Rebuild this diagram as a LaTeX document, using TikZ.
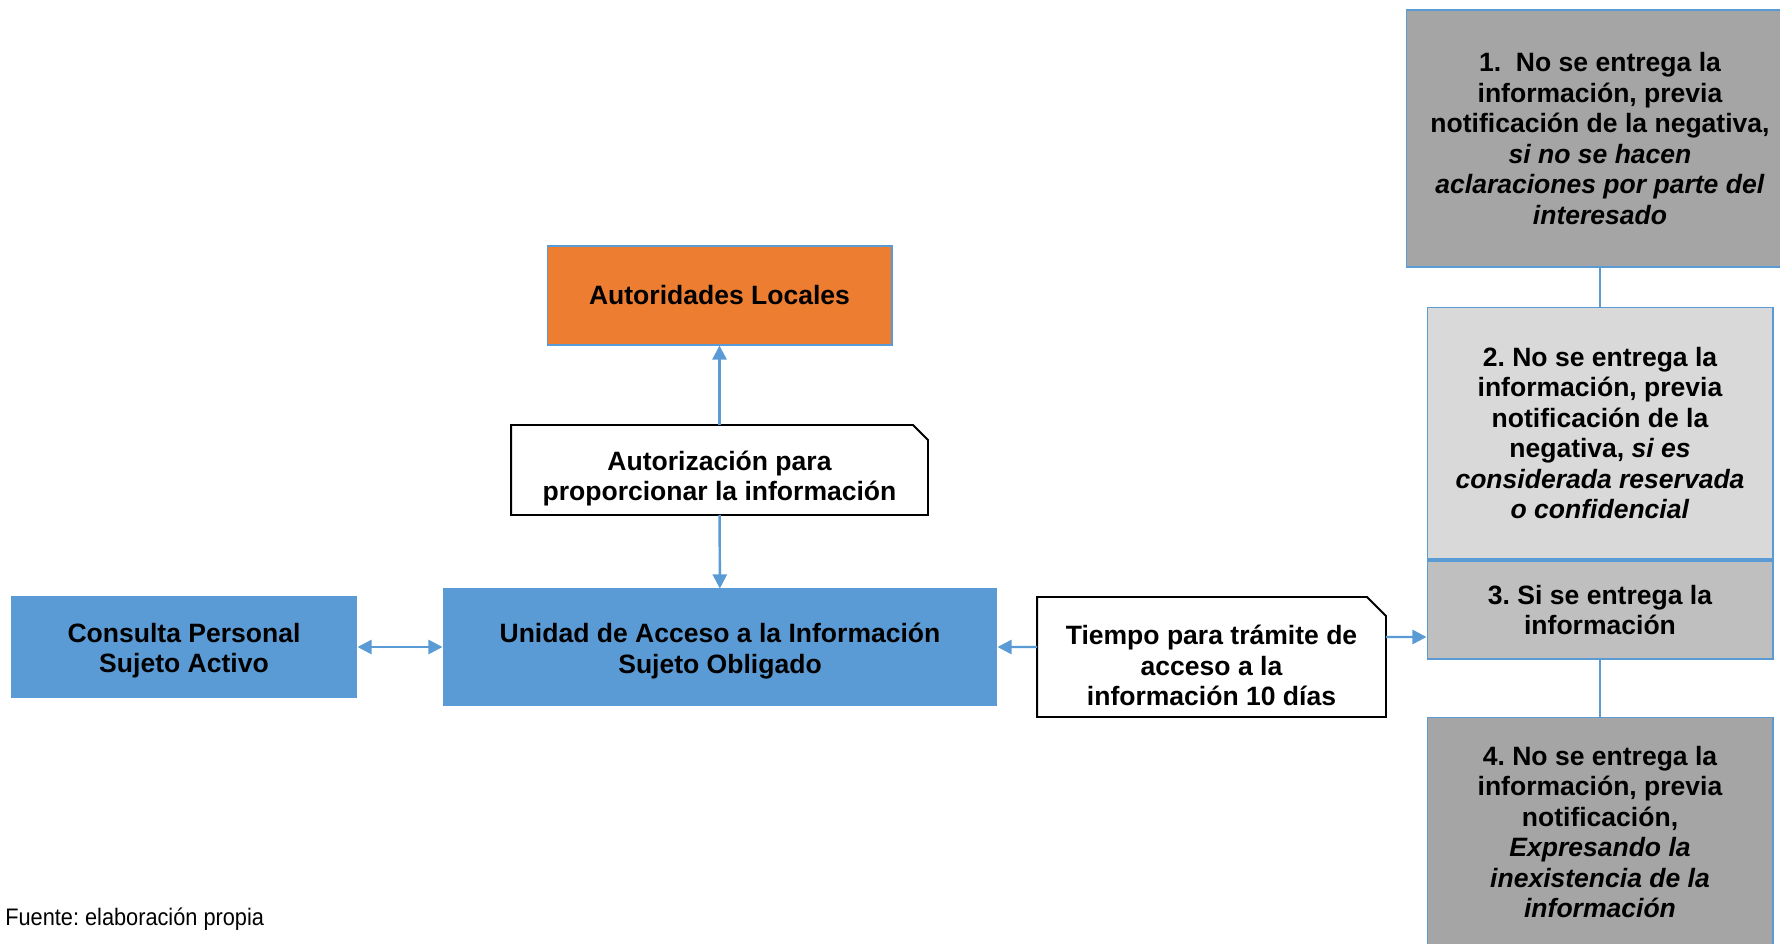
\documentclass[tikz,border=0pt]{standalone}
\usepackage{fontspec}
\setmainfont{Liberation Sans}
\newfontfamily\narrowfont[FakeStretch=0.91]{Liberation Sans}
\usepackage{tikz}
\usetikzlibrary{arrows.meta,positioning,calc}
\usepackage{xcolor}
\definecolor{ofblue}{RGB}{91,155,213}
\definecolor{oforange}{RGB}{237,125,49}
\definecolor{ofgray}{RGB}{165,165,165}
\definecolor{ofgray2}{RGB}{191,191,191}
\definecolor{oflightgray}{RGB}{217,217,217}
\tikzstyle{arrow} = [line width=1.4pt,-{Triangle[length=8pt,width=8pt]},color=ofblue]
\tikzstyle{link} = [line width=1.2pt,color=ofblue]
\tikzstyle{box} = [rectangle, text centered, align=center, draw=ofblue, line width=0.6pt, inner sep=2pt, font=\bfseries\fontsize{15.1}{17.4}\selectfont]
\tikzstyle{callout} = [rectangle, align=center, inner sep=2pt, outer sep=0pt, font=\bfseries\fontsize{15.1}{17.4}\selectfont]
\tikzstyle{calloutedge} = [draw=black, line width=1.1pt, line join=miter]
\newcommand{\toplift}{\rule{0pt}{21pt}}
% outline with the cut top right corner
\newcommand{\snipbox}[2]{\draw[calloutedge] (#1.south west) -- (#1.north west) -- ([xshift=-#2]#1.north east) -- ([yshift=-#2]#1.north east) -- (#1.south east) -- cycle;}

\begin{document}
\frenchspacing
\begin{tikzpicture}[x=0.02cm, y=-0.02cm]
    \useasboundingbox (0,0) rectangle (1780,943);
    % Nodes
    \node[box, fill=ofblue, minimum width=6.92cm, minimum height=2cm] (consulta) at (184,647) {\rule{0pt}{15pt}Consulta Personal\\Sujeto Activo};
    \node[box, fill=ofblue, minimum width=11.08cm, minimum height=2.32cm] (unidad) at (720,647) {\rule{0pt}{16pt}Unidad de Acceso a la Información\\Sujeto Obligado};
    \node[box, fill=oforange, minimum width=6.9cm, minimum height=1.98cm] (autoridades) at (719.5,295.5) {Autoridades Locales};
    \node[callout, minimum width=8.34cm, minimum height=1.8cm] (autorizacion) at (719.5,470) {\toplift Autorización para\\proporcionar la información};
    \node[callout, minimum width=6.98cm, minimum height=2.4cm] (tiempo) at (1211.5,657) {\toplift Tiempo para trámite de\\acceso a la\\información 10 días};
    \snipbox{autorizacion}{0.3cm}
    \snipbox{tiempo}{0.38cm}

    % Options on the right
    \node[box, fill=ofgray, minimum width=7.76cm, minimum height=5.14cm] (op1) at (1600,138.5) {1.\ \ No se entrega la\\información, previa\\notificación de la negativa,\\\textit{si no se hacen}\\\textit{aclaraciones por parte del}\\\textit{interesado}};
    \node[box, fill=oflightgray, minimum width=6.92cm, minimum height=5.04cm] (op2) at (1600,433) {2. No se entrega la\\información, previa\\notificación de la\\negativa, \textit{si es}\\\textit{considerada reservada}\\\textit{o confidencial}};
    \node[box, fill=ofgray2, minimum width=6.92cm, minimum height=1.96cm] (op3) at (1600,610) {3. Si se entrega la\\información};
    \node[box, fill=ofgray, minimum width=6.92cm, minimum height=4.6cm] (op4) at (1600,832) {4. No se entrega la\\información, previa\\notificación,\\\textit{Expresando la}\\\textit{inexistencia de la}\\\textit{información}};

    % Arrows
    \draw[arrow] (autorizacion) -- (autoridades);
    \draw[arrow] (autorizacion) -- (unidad);
    \draw[arrow, {Triangle[length=8pt,width=8pt]}-{Triangle[length=8pt,width=8pt]}] (consulta) -- (unidad);
    \draw[arrow] ([yshift=0.2cm]tiempo.west) -- (unidad.east);
    \draw[arrow] ([yshift=0.4cm]tiempo.east) -- ([yshift=-0.54cm]op3.west);
    \draw[link] (op1) -- (op2);
    \draw[link] (op2) -- (op3);
    \draw[link] (op3) -- (op4);

    % Source
    \node[anchor=west, inner sep=0pt, font=\narrowfont\fontsize{13.6}{16}\selectfont] (fuente) at (5,919) {Fuente: elaboración propia};
\end{tikzpicture}
\end{document}
